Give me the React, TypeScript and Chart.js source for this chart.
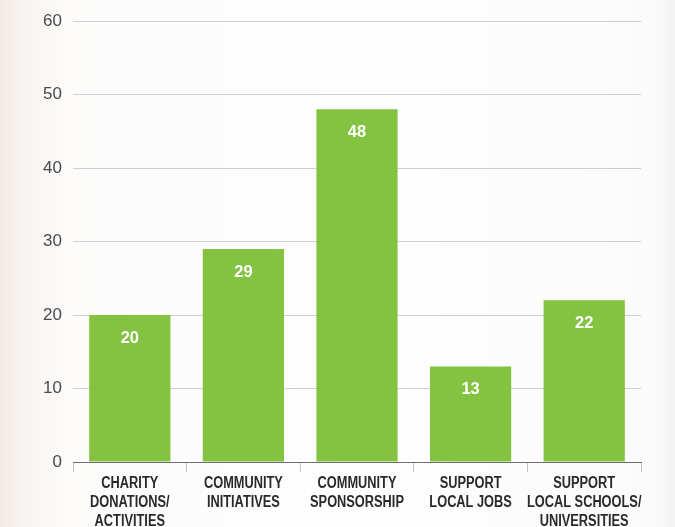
import React, { useEffect, useRef } from "react";
import { Chart, registerables } from "chart.js";

Chart.register(...registerables);

const categories: string[][] = [
  ["CHARITY", "DONATIONS/", "ACTIVITIES"],
  ["COMMUNITY", "INITIATIVES"],
  ["COMMUNITY", "SPONSORSHIP"],
  ["SUPPORT", "LOCAL JOBS"],
  ["SUPPORT", "LOCAL SCHOOLS/", "UNIVERSITIES"],
];
const values: number[] = [20, 29, 48, 13, 22];
const yTicks: number[] = [0, 10, 20, 30, 40, 50, 60];

const valueLabelPlugin = {
  id: "valueLabels",
  afterDatasetsDraw(chart: any) {
    const ctx = chart.ctx;
    const meta = chart.getDatasetMeta(0);
    ctx.save();
    ctx.fillStyle = "#ffffff";
    ctx.font = "bold 17px 'Liberation Sans', sans-serif";
    ctx.textAlign = "center";
    ctx.textBaseline = "middle";
    meta.data.forEach((bar: any, i: number) => {
      ctx.save();
      ctx.translate(bar.x, bar.y + 23);
      ctx.scale(0.97, 1);
      ctx.fillText(String(values[i]), 0, 0);
      ctx.restore();
    });
    ctx.restore();
  },
};

const condensedXLabels = {
  id: "condensedXLabels",
  afterDraw(chart: any) {
    const ctx = chart.ctx;
    const xs = chart.scales.x;
    ctx.save();
    ctx.fillStyle = "#2a2a2a";
    ctx.font = "bold 16px 'Liberation Sans', sans-serif";
    ctx.textAlign = "center";
    ctx.textBaseline = "middle";
    categories.forEach((lines, i) => {
      const x = xs.getPixelForTick(i);
      lines.forEach((line, k) => {
        ctx.save();
        ctx.translate(x, xs.top + 22 + k * 19);
        ctx.scale(0.8, 1);
        ctx.fillText(line, 0, 0);
        ctx.restore();
      });
    });
    ctx.restore();
  },
};

export default function App() {
  const ref = useRef<HTMLCanvasElement | null>(null);
  useEffect(() => {
    if (!ref.current) return;
    const chart = new Chart(ref.current, {
      type: "bar",
      data: {
        labels: categories,
        datasets: [
          {
            data: values,
            backgroundColor: "#83c341",
            borderWidth: 0,
            barPercentage: 0.715,
            categoryPercentage: 1,
          },
        ],
      },
      options: {
        animation: false,
        responsive: false,
        maintainAspectRatio: false,
        layout: { padding: { top: 12, right: 34, left: 0, bottom: 0 } },
        plugins: {
          legend: { display: false },
          tooltip: { enabled: false },
        },
        scales: {
          x: {
            offset: true,
            grid: {
              offset: true,
              drawOnChartArea: false,
              drawTicks: true,
              tickLength: 10,
              color: "#c4c4c4",
            },
            border: { display: true, color: "#6e6e6e", width: 1 },
            ticks: {
              color: "rgba(0,0,0,0)",
              padding: 2,
              maxRotation: 0,
              autoSkip: false,
              font: { family: "'Liberation Sans', sans-serif", size: 12 },
            },
            afterFit(scale: any) {
              scale.height = 65;
            },
          },
          y: {
            min: 0,
            max: 60,
            afterBuildTicks(scale: any) {
              scale.ticks = yTicks.map((v) => ({ value: v }));
            },
            grid: {
              drawTicks: false,
              color: "#cfcfcf",
              lineWidth: 1,
            },
            border: { display: false },
            ticks: {
              color: "#4a4a4a",
              padding: 11,
              font: { family: "'Liberation Sans', sans-serif", size: 17 },
            },
            afterFit(scale: any) {
              scale.width = 73;
            },
          },
        },
      },
      plugins: [valueLabelPlugin, condensedXLabels],
    });
    return () => chart.destroy();
  }, []);

  return (
    <div
      style={{
        position: "fixed",
        left: 0,
        top: 0,
        width: 675,
        height: 527,
        overflow: "hidden",
        background:
          "linear-gradient(to right, #f1ebe6 0px, #f8f4f1 25px, #fdfcfb 70px, #fefefe 400px, #fbfbfb 650px, #f4f4f4 675px)",
      }}
    >
      <canvas ref={ref} width={675} height={527} style={{ display: "block" }} />
    </div>
  );
}
